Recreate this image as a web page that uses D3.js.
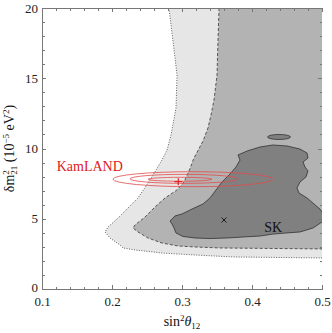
<!DOCTYPE html>
<html>
<head>
<meta charset="utf-8">
<script src="https://cdn.jsdelivr.net/npm/d3@7"></script>
<style>
    body { margin: 0; background: #fff; }
    svg text { font-family: "Liberation Serif", "Times New Roman", serif; }
    .axis path, .axis line { stroke: #777; shape-rendering: crispEdges; }
    .axis text { font-size: 13px; fill: #222; font-family: "Liberation Serif", serif; }
</style>
</head>
<body>
<div class="graph"></div>
<script>
(function() {
    // tick values and labels
    var xTicks = [0.1, 0.2, 0.3, 0.4, 0.5];
    var xTickLabels = ["0.1", "0.2", "0.3", "0.4", "0.5"];
    var xMinorTicks = [0.12, 0.14, 0.16, 0.18, 0.22, 0.24, 0.26, 0.28, 0.32, 0.34, 0.36, 0.38, 0.42, 0.44, 0.46, 0.48];
    var yTicks = [0, 5, 10, 15, 20];
    var yTickLabels = ["0", "5", "10", "15", "20"];
    var yMinorTicks = [1, 2, 3, 4, 6, 7, 8, 9, 11, 12, 13, 14, 16, 17, 18, 19];

    // SK allowed regions: contour lines [sin^2 theta12, dm2 (1e-5 eV^2)]
    var outerContour = [
        [0.2814, 20], [0.2871, 17.65], [0.2929, 15.23], [0.2914, 12.88], [0.2843, 10.96],
        [0.2786, 9.89], [0.2714, 9.18], [0.2543, 7.76], [0.2371, 6.48], [0.2229, 5.77],
        [0.2086, 5.05], [0.1943, 4.41], [0.19, 4.06], [0.1971, 3.63], [0.2114, 3.13],
        [0.2157, 2.92], [0.2329, 2.78], [0.2714, 2.56], [0.3186, 2.42], [0.3729, 2.28],
        [0.5, 2.21]
    ];
    var middleContour = [
        [0.3529, 20], [0.3514, 17.65], [0.35, 15.23], [0.3457, 13.45], [0.3414, 12.38],
        [0.3371, 11.46], [0.33, 10.53], [0.3171, 9.32], [0.31, 8.40], [0.3029, 7.62],
        [0.2929, 7.05], [0.2757, 6.48], [0.2614, 5.84], [0.2471, 5.12], [0.2329, 4.56],
        [0.23, 4.34], [0.2371, 4.06], [0.2514, 3.63], [0.2714, 3.27], [0.2943, 3.06],
        [0.3186, 2.99], [0.3543, 2.92], [0.5, 2.85]
    ];
    var innerContour = [
        [0.5, 5.48], [0.4971, 5.69], [0.4886, 6.05], [0.4786, 6.48], [0.4671, 6.83],
        [0.4643, 7.19], [0.4686, 7.62], [0.4771, 7.97], [0.48, 8.40], [0.4757, 8.68],
        [0.4729, 9.04], [0.48, 9.32], [0.4786, 9.68], [0.4686, 9.96], [0.45, 10.18],
        [0.43, 10.25], [0.4114, 10.11], [0.3929, 9.82], [0.38, 9.54], [0.3829, 9.18],
        [0.3771, 8.68], [0.3671, 8.11], [0.3571, 7.62], [0.3486, 7.05], [0.34, 6.48],
        [0.33, 6.05], [0.3143, 5.69], [0.30, 5.34], [0.29, 5.20], [0.2829, 4.84],
        [0.2857, 4.63], [0.2886, 4.34], [0.2914, 3.99], [0.3014, 3.74], [0.3186, 3.63],
        [0.34, 3.59], [0.3643, 3.63], [0.3871, 3.70], [0.4114, 3.77], [0.43, 3.91],
        [0.45, 3.99], [0.4686, 4.06], [0.4871, 4.34], [0.5, 4.77]
    ];
    // small island of the inner region: centre x, centre y, half width, half height
    var innerIsland = [0.4386, 10.82, 0.0164, 0.178];

    // KamLAND contours (ellipses)
    var kamlandCenterX = [0.3154, 0.3029, 0.2971];
    var kamlandCenterY = [7.815, 7.84, 7.81];
    var kamlandHalfWidth = [0.1139, 0.0771, 0.0457];
    var kamlandHalfHeight = [0.534, 0.32, 0.14];

    var kamlandBest = [0.2947, 7.64];
    var skBest = [0.360, 4.91];
    var kamlandLabel = ["KamLAND", 0.121, 8.42];
    var skLabel = ["SK", 0.4304, 4.08];

    var widthBase = 332;
    var heightBase = 333;
    var margins = { "top": 8, "right": 10, "bottom": 44, "left": 42 };
    var width = widthBase - margins.left - margins.right;
    var height = heightBase - margins.top - margins.bottom;

    var x = d3.scaleLinear().domain([0.1, 0.5]).range([0, width]);
    var y = d3.scaleLinear().domain([0, 20]).range([height, 0]);

    var line = d3.line()
        .x(function(d) { return x(d[0]); })
        .y(function(d) { return y(d[1]); });

    var svg = d3.select(".graph")
        .append("svg")
            .attr("width", widthBase)
            .attr("height", heightBase);

    var graph = svg.append("g")
        .attr("transform", "translate(" + margins.left + "," + margins.top + ")");

    graph.append("defs")
        .append("clipPath")
            .attr("id", "clip")
            .append("rect")
                .attr("width", width)
                .attr("height", height);

    var regions = graph.append("g").attr("clip-path", "url(#clip)");

    // fills
    regions.append("path")
        .attr("d", line(outerContour.concat([[0.5, 20]])) + "Z")
        .attr("fill", "#e6e6e6");
    regions.append("path")
        .attr("d", line(middleContour.concat([[0.5, 20]])) + "Z")
        .attr("fill", "#b3b3b3");
    regions.append("path")
        .attr("d", line(innerContour) + "Z")
        .attr("fill", "#808080");

    // contour lines
    regions.append("path")
        .attr("d", line(outerContour))
        .attr("fill", "none")
        .attr("stroke", "#222")
        .attr("stroke-width", 0.7)
        .attr("stroke-dasharray", "1,1.5");
    regions.append("path")
        .attr("d", line(middleContour))
        .attr("fill", "none")
        .attr("stroke", "#222")
        .attr("stroke-width", 0.7)
        .attr("stroke-dasharray", "3,2");
    regions.append("path")
        .attr("d", line(innerContour))
        .attr("fill", "none")
        .attr("stroke", "#222")
        .attr("stroke-width", 0.7);
    regions.append("ellipse")
        .attr("cx", x(innerIsland[0]))
        .attr("cy", y(innerIsland[1]))
        .attr("rx", x(innerIsland[0] + innerIsland[2]) - x(innerIsland[0]))
        .attr("ry", y(innerIsland[1] - innerIsland[3]) - y(innerIsland[1]))
        .attr("fill", "#808080")
        .attr("stroke", "#222")
        .attr("stroke-width", 0.7);

    // KamLAND
    regions.selectAll(".kamland")
        .data(kamlandCenterX)
        .enter().append("ellipse")
            .attr("class", "kamland")
            .attr("cx", function(d) { return x(d); })
            .attr("cy", function(d, i) { return y(kamlandCenterY[i]); })
            .attr("rx", function(d, i) { return x(d + kamlandHalfWidth[i]) - x(d); })
            .attr("ry", function(d, i) { return y(kamlandCenterY[i] - kamlandHalfHeight[i]) - y(kamlandCenterY[i]); })
            .attr("fill", "none")
            .attr("stroke", "#e24a4a")
            .attr("stroke-width", 0.8);

    var kx = x(kamlandBest[0]), ky = y(kamlandBest[1]);
    graph.append("path")
        .attr("d", "M" + (kx - 4) + "," + ky + "H" + (kx + 4) + "M" + kx + "," + (ky - 3.5) + "V" + (ky + 3.5))
        .attr("stroke", "#e02020")
        .attr("stroke-width", 1.2);

    var sx = x(skBest[0]), sy = y(skBest[1]);
    graph.append("path")
        .attr("d", "M" + (sx - 2.5) + "," + (sy - 2.5) + "L" + (sx + 2.5) + "," + (sy + 2.5) +
                   "M" + (sx - 2.5) + "," + (sy + 2.5) + "L" + (sx + 2.5) + "," + (sy - 2.5))
        .attr("stroke", "#111")
        .attr("stroke-width", 0.9);

    graph.append("text")
        .attr("x", x(kamlandLabel[1]))
        .attr("y", y(kamlandLabel[2]))
        .attr("fill", "#e02020")
        .style("font-size", "14px")
        .text(kamlandLabel[0]);

    graph.append("text")
        .attr("x", x(skLabel[1]))
        .attr("y", y(skLabel[2]))
        .attr("fill", "#111")
        .style("font-size", "14px")
        .style("text-anchor", "middle")
        .text(skLabel[0]);

    // axes, ticks inside
    graph.append("g")
        .attr("class", "x axis")
        .attr("transform", "translate(0," + height + ")")
        .call(d3.axisBottom(x)
            .tickValues(xTicks)
            .tickFormat(function(d, i) { return xTickLabels[i]; })
            .tickSizeInner(-4).tickSizeOuter(0).tickPadding(8));

    graph.append("g")
        .attr("class", "x axis minor")
        .attr("transform", "translate(0," + height + ")")
        .call(d3.axisBottom(x).tickValues(xMinorTicks).tickFormat("").tickSizeInner(-2.5).tickSizeOuter(0))
        .select(".domain").remove();

    graph.append("g")
        .attr("class", "x axis top")
        .call(d3.axisTop(x).tickValues(xTicks).tickFormat("").tickSizeInner(-4).tickSizeOuter(0));

    graph.append("g")
        .attr("class", "x axis top minor")
        .call(d3.axisTop(x).tickValues(xMinorTicks).tickFormat("").tickSizeInner(-2.5).tickSizeOuter(0))
        .select(".domain").remove();

    var yAxis = graph.append("g")
        .attr("class", "y axis")
        .call(d3.axisLeft(y)
            .tickValues(yTicks)
            .tickFormat(function(d, i) { return yTickLabels[i]; })
            .tickSizeInner(-4).tickSizeOuter(0).tickPadding(4));

    // the "0" sits just above the x tick labels
    yAxis.selectAll(".tick text")
        .filter(function(d) { return d === 0; })
        .attr("dy", "0.2em");

    graph.append("g")
        .attr("class", "y axis minor")
        .call(d3.axisLeft(y).tickValues(yMinorTicks).tickFormat("").tickSizeInner(-2.5).tickSizeOuter(0))
        .select(".domain").remove();

    graph.append("g")
        .attr("class", "y axis right")
        .attr("transform", "translate(" + width + ",0)")
        .call(d3.axisRight(y).tickValues(yTicks).tickFormat("").tickSizeInner(-4).tickSizeOuter(0))
        .select(".domain").remove();

    graph.append("g")
        .attr("class", "y axis right minor")
        .attr("transform", "translate(" + width + ",0)")
        .call(d3.axisRight(y).tickValues(yMinorTicks).tickFormat("").tickSizeInner(-2.5).tickSizeOuter(0))
        .select(".domain").remove();

    // axis labels
    var xLabel = graph.append("text")
        .attr("x", width / 2)
        .attr("y", height + 37)
        .attr("fill", "#111")
        .style("font-size", "14px")
        .style("text-anchor", "middle");
    xLabel.append("tspan").text("sin");
    xLabel.append("tspan").attr("dy", -5).style("font-size", "9px").text("2");
    xLabel.append("tspan").attr("dy", 5).style("font-style", "italic").text("θ");
    xLabel.append("tspan").attr("dy", 3).style("font-size", "9px").text("12");

    var yLabel = graph.append("text")
        .attr("transform", "translate(" + (14 - margins.left) + "," + (height / 2) + ") rotate(-90)")
        .attr("fill", "#111")
        .style("font-size", "14px")
        .style("text-anchor", "middle");
    yLabel.append("tspan").text("δm");
    yLabel.append("tspan").attr("dy", -5).style("font-size", "9px").text("2");
    yLabel.append("tspan").attr("dx", -4.5).attr("dy", 8).style("font-size", "9px").text("21");
    yLabel.append("tspan").attr("dy", -3).text(" (10");
    yLabel.append("tspan").attr("dy", -5).style("font-size", "9px").text("−5");
    yLabel.append("tspan").attr("dy", 5).text(" eV");
    yLabel.append("tspan").attr("dy", -5).style("font-size", "9px").text("2");
    yLabel.append("tspan").attr("dy", 5).text(")");
})();
</script>
</body>
</html>
